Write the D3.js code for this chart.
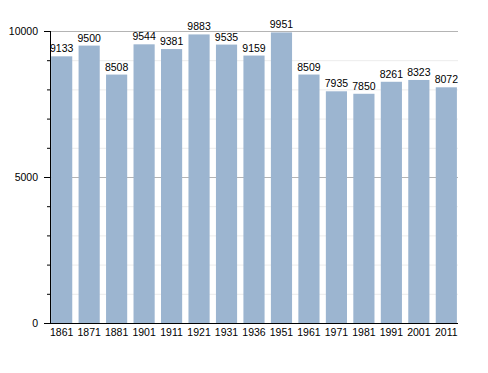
<!DOCTYPE html>
<html><head><meta charset="utf-8">
<script src="https://cdn.jsdelivr.net/npm/d3@7"></script>
<style>body{margin:0;background:#fff}text{font-family:"Liberation Sans",Arial,sans-serif}</style>
</head><body><svg id="c" width="488" height="373"></svg>
<script>
const years = ["1861","1871","1881","1901","1911","1921","1931","1936","1951","1961","1971","1981","1991","2001","2011"];
const population = [9133,9500,8508,9544,9381,9883,9535,9159,9951,8509,7935,7850,8261,8323,8072];
const majorTicks = [0,5000,10000];
const minorTicks = [1000,2000,3000,4000,6000,7000,8000,9000];

const svg = d3.select("#c");
const L=50, R=458, T=31, B=323;
const x = d3.scaleBand().domain(years).range([L,R]).paddingInner(0.23).paddingOuter(0.04);
const y = d3.scaleLinear().domain([0,10000]).range([B,T]);

svg.append("g").selectAll("line").data(minorTicks).join("line")
  .attr("x1",L).attr("x2",R).attr("y1",d=>y(d)+0.5).attr("y2",d=>y(d)+0.5)
  .attr("stroke","#ececec");
svg.append("g").selectAll("line").data(majorTicks.filter(d=>d>0)).join("line")
  .attr("x1",L).attr("x2",R).attr("y1",d=>y(d)+0.5).attr("y2",d=>y(d)+0.5)
  .attr("stroke","#b4b4b4");

svg.append("g").selectAll("rect").data(population).join("rect")
  .attr("x",(d,i)=>x(years[i])).attr("width",x.bandwidth())
  .attr("y",d=>y(d)).attr("height",d=>B-y(d))
  .attr("fill","#9cb5d0");

svg.append("g").selectAll("text").data(population).join("text")
  .attr("x",(d,i)=>x(years[i])+x.bandwidth()/2).attr("y",d=>y(d)-4)
  .attr("text-anchor","middle").attr("font-size",10.5).attr("fill","#000")
  .text(d=>d);

const ya = svg.append("g").attr("transform",`translate(${L},0)`)
  .call(d3.axisLeft(y).tickValues(majorTicks).tickSize(6).tickPadding(6).tickFormat(d3.format("d")));
ya.select(".domain").remove();
ya.selectAll("text").attr("font-size",10.5).attr("font-family","Liberation Sans, Arial, sans-serif");
svg.append("g").attr("transform",`translate(${L},0)`)
  .call(d3.axisLeft(y).tickValues(minorTicks).tickSize(3).tickFormat(""))
  .select(".domain").remove();
svg.append("line").attr("x1",L+0.5).attr("x2",L+0.5).attr("y1",T).attr("y2",B).attr("stroke","#000");
svg.append("line").attr("x1",L).attr("x2",R).attr("y1",B+0.5).attr("y2",B+0.5).attr("stroke","#000");

svg.append("g").selectAll("text").data(years).join("text")
  .attr("x",d=>x(d)+x.bandwidth()/2).attr("y",B+13)
  .attr("text-anchor","middle").attr("font-size",10.5).text(d=>d);
</script></body></html>
